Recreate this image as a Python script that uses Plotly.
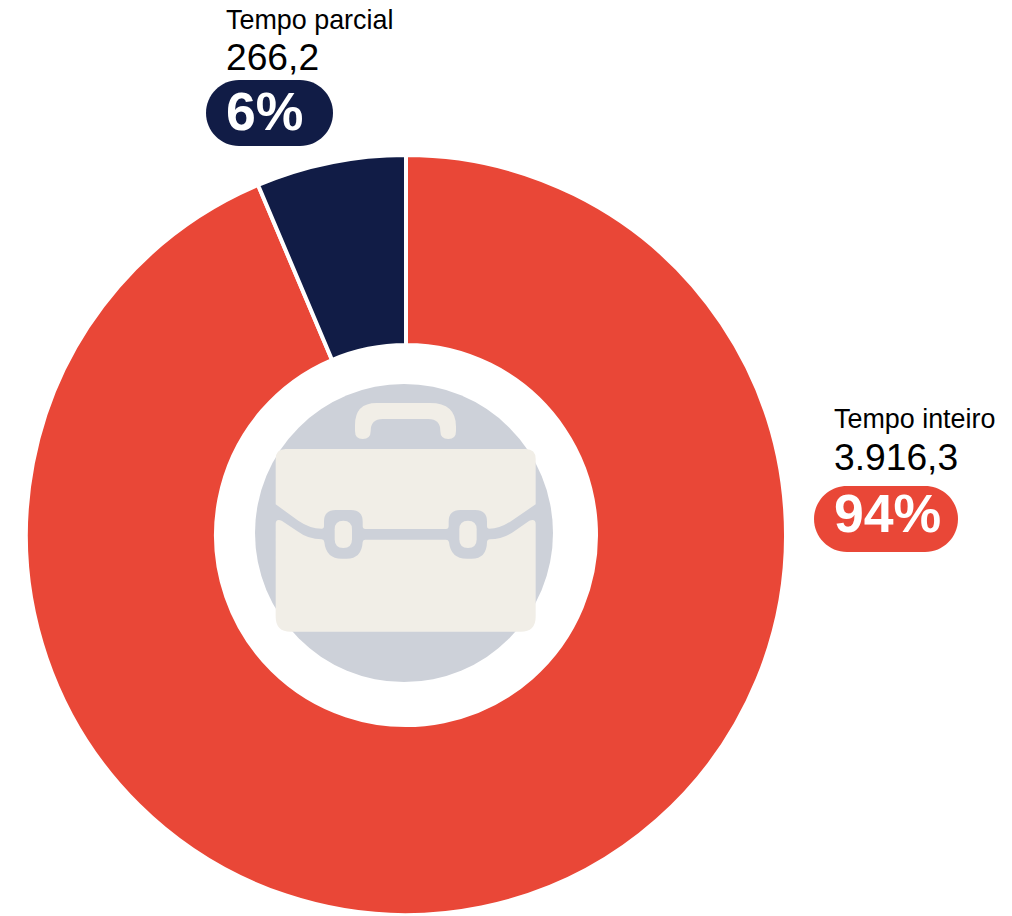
import plotly.graph_objects as go

categories = ["Tempo inteiro", "Tempo parcial"]
values = [3916.3, 266.2]
value_labels = ["3.916,3", "266,2"]
pct_labels = ["94%", "6%"]
colors = ["#E94737", "#111C46"]

W, H = 1012, 916
RED, NAVY = colors
GRAY = "#CDD1D9"
CREAM = "#F1EEE7"
FONT = "Liberation Sans, Arial, sans-serif"


def icon(path):
    """Icon outlines are traced on a 3x grid whose origin is at (240, 370)."""
    out, nums = [], []
    for tok in path.split():
        if tok.isalpha():
            out.append(tok)
        else:
            nums.append(float(tok))
            axis = len(nums) % 2
            out.append(f"{(240 + nums[-1] / 3) if axis else (370 + nums[-1] / 3):.2f}")
    return " ".join(out)


def pill(x0, x1, y0, y1):
    r = (y1 - y0) / 2
    k = 0.5523 * r
    ym = y0 + r
    return (f"M {x0 + r} {y0} L {x1 - r} {y0} "
            f"C {x1 - r + k} {y0} {x1} {ym - k} {x1} {ym} "
            f"C {x1} {ym + k} {x1 - r + k} {y1} {x1 - r} {y1} "
            f"L {x0 + r} {y1} "
            f"C {x0 + r - k} {y1} {x0} {ym + k} {x0} {ym} "
            f"C {x0} {ym - k} {x0 + r - k} {y0} {x0 + r} {y0} Z")


fig = go.Figure()
fig.add_trace(go.Pie(
    labels=categories, values=values, sort=False, direction="clockwise", rotation=0,
    hole=0.5, textinfo="none", showlegend=False,
    marker=dict(colors=colors, line=dict(color="#FFFFFF", width=4)),
    domain=dict(x=[26 / W, 786 / W], y=[1 / H, 761 / H]),
))

upper = ("M 137 237 L 857 237 Q 887 237 887 267 L 887 403 L 815 452 Q 780 476 748 476 "
         "Q 741 476 741 468 L 741 455 Q 741 420 706 420 L 661 420 Q 626 420 626 455 "
         "L 626 468 Q 626 477 618 477 L 376 477 Q 368 477 368 468 L 368 455 "
         "Q 368 420 333 420 L 287 420 Q 252 420 252 455 L 252 468 Q 252 476 245 476 "
         "Q 210 476 175 452 L 107 403 L 107 267 Q 107 237 137 237 Z")
lower = ("M 107 462 Q 107 445 125 452 L 170 482 Q 205 508 245 508 Q 252 508 253 516 "
         "Q 258 566 305 566 L 320 566 Q 365 566 368 516 Q 369 509 376 509 L 618 509 "
         "Q 625 509 627 516 Q 632 566 680 566 L 695 566 Q 740 566 741 516 Q 742 508 750 508 "
         "Q 790 508 825 482 L 868 452 Q 887 445 887 462 L 887 740 Q 887 785 842 785 "
         "L 152 785 Q 107 785 107 740 Z")
handle = ("M 345 183 L 345 165 Q 345 99 410 99 L 570 99 Q 648 99 648 170 L 648 183 "
          "Q 648 207 625 207 Q 601 207 601 183 Q 601 147 565 147 L 428 147 "
          "Q 392 147 392 183 Q 392 207 368 207 Q 345 207 345 183 Z")
hole_l = ("M 284 478 Q 284 452 310 452 Q 336 452 336 478 L 336 508 Q 336 534 310 534 "
          "Q 284 534 284 508 Z")
hole_r = ("M 658 478 Q 658 452 684 452 Q 710 452 710 478 L 710 508 Q 710 534 684 534 "
          "Q 658 534 658 508 Z")

shapes = [dict(type="circle", xref="x", yref="y", x0=255, x1=553, y0=384, y1=682,
               fillcolor=GRAY, line_width=0)]
for p in (handle, upper, lower, hole_l, hole_r):
    shapes.append(dict(type="path", xref="x", yref="y", path=icon(p),
                       fillcolor=CREAM, line_width=0))
shapes.append(dict(type="path", xref="x", yref="y", path=pill(814, 958, 486, 552),
                   fillcolor=RED, line_width=0))
shapes.append(dict(type="path", xref="x", yref="y", path=pill(206, 333, 80, 146),
                   fillcolor=NAVY, line_width=0))

label_x = [832.5, 224.5]
cat_y = [419, 19.5]
val_y = [457, 57]
pct_y = [513, 111]
annotations = []
for lx, cy, vy, py, cat, val, pct in zip(label_x, cat_y, val_y, pct_y,
                                         categories, value_labels, pct_labels):
    annotations += [
        dict(x=lx, y=cy, text=cat, font=dict(size=26.9, color="#000000", family=FONT)),
        dict(x=lx, y=vy, text=val, font=dict(size=37.2, color="#000000", family=FONT)),
        dict(x=lx, y=py, text=f"<b>{pct}</b>", font=dict(size=53.6, color="#FFFFFF", family=FONT)),
    ]
for a in annotations:
    a.update(xref="x", yref="y", xanchor="left", yanchor="middle", showarrow=False,
             borderpad=0)

fig.update_layout(
    width=W, height=H, margin=dict(l=0, r=0, t=0, b=0),
    paper_bgcolor="#FFFFFF", plot_bgcolor="rgba(0,0,0,0)",
    xaxis=dict(range=[0, W], visible=False, fixedrange=True),
    yaxis=dict(range=[H, 0], visible=False, fixedrange=True),
    shapes=shapes, annotations=annotations,
)
fig.write_html("out.html", config={"displayModeBar": False},
               post_script="document.body.style.margin='0';document.documentElement.style.overflow='hidden';")
